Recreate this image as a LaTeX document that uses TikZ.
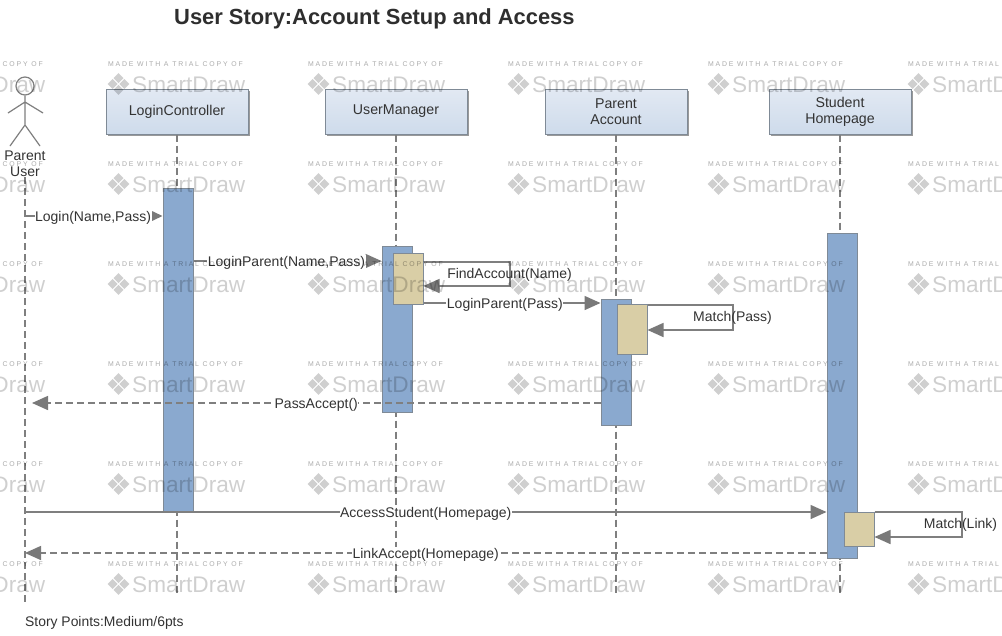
\documentclass[tikz,border=0pt]{standalone}
\usepackage{fontspec}
\setmainfont{Liberation Sans}
\newfontfamily\wmfont[LetterSpace=26]{Liberation Sans}
\usetikzlibrary{arrows.meta,shapes.geometric}
\definecolor{linegrey}{HTML}{7F7F7F}
\definecolor{txt}{HTML}{333333}
\definecolor{boxedge}{HTML}{7F8A96}
\definecolor{boxtop}{HTML}{E2E9F3}
\definecolor{boxbot}{HTML}{CEDBEB}
\definecolor{barblue}{HTML}{8AA9CF}
\definecolor{bartan}{HTML}{D9CEA6}
\definecolor{shadowgrey}{HTML}{999999}
\tikzset{
  x=1pt,y=-1pt,
  lbl/.style={text=txt,font=\fontsize{14}{16}\selectfont,inner sep=0.5pt,yshift=-1.5pt},
  msg/.style={draw=linegrey,line width=1.5pt,-{Triangle[length=16pt,width=14pt,color=linegrey!95!black]}},
  smallmsg/.style={draw=linegrey,line width=1.5pt,-{Triangle[length=12pt,width=11pt,color=linegrey!95!black]}},
  ret/.style={msg,dash pattern=on 7pt off 4pt},
  life/.style={draw=linegrey,line width=1.4pt,dash pattern=on 7pt off 4pt},
  objbox/.style={draw=boxedge,line width=1pt,top color=boxtop,bottom color=boxbot,minimum width=142pt,minimum height=45pt,align=center,text=txt,font=\fontsize{14.2}{16}\selectfont,inner sep=0pt,anchor=north west},
  bar/.style={draw=boxedge,line width=1pt,fill=barblue,minimum width=30pt,inner sep=0pt,anchor=north west},
  inner/.style={draw=boxedge,line width=1pt,fill=bartan,minimum width=30pt,inner sep=0pt,anchor=north west},
  stick/.style={draw=linegrey,line width=1.2pt},
}
\newcommand{\objshadow}[5]{\fill[shadowgrey] (#1+#5,#2+#5) rectangle (#3+#5,#4+#5);}
\begin{document}
\begin{tikzpicture}
\useasboundingbox (0,0) rectangle (1002,635);
\fill[white] (0,0) rectangle (1002,635);
% title
\node[anchor=west,font=\bfseries\fontsize{21.9}{26}\selectfont,text=txt!90!black,inner sep=0] (title) at (174,18.5) {User Story:Account Setup and Access};
\node[anchor=west,font=\fontsize{13.9}{16}\selectfont,text=txt,inner sep=0] (foot) at (25,622.5) {Story Points:Medium/6pts};
% object boxes
\objshadow{105.5}{88.5}{247.5}{133.5}{2}
\objshadow{324.5}{88.5}{466.5}{133.5}{2}
\objshadow{544.5}{88.5}{686.5}{133.5}{2}
\objshadow{768.5}{88.5}{910.5}{133.5}{2}
\node[objbox] (lc) at (105.5,88.5) {LoginController};
\node[objbox] (um) at (324.5,88.5) {UserManager};
\node[objbox] (pa) at (544.5,88.5) {Parent\\Account};
\node[objbox] (sh) at (768.5,88.5) {Student\\Homepage};
% actor
\node[circle,draw=linegrey,line width=1.2pt,minimum size=18pt,inner sep=0] (head) at (25,86) {};
\coordinate (neck) at (25,102);
\coordinate (hip) at (25,125);
\coordinate (handl) at (8,113);
\coordinate (handr) at (43,113);
\coordinate (footl) at (10,146);
\coordinate (footr) at (40,146);
\draw[stick] (head.south) -- (hip) -- (footl) (hip) -- (footr) (neck) -- (handl) (neck) -- (handr);
\node[lbl,align=center,inner sep=0,anchor=north] (actor) at (25,149.5) {Parent\\User};
% lifelines
\coordinate (aend) at (25,606);
\coordinate (lcend) at (177,596);
\coordinate (umend) at (396,596);
\coordinate (paend) at (616,596);
\coordinate (shend) at (840,596);
\draw[life] (actor.south) -- (aend);
\draw[life] (lc.south -| lcend) -- (lcend);
\draw[life] (um.south -| umend) -- (umend);
\draw[life] (pa.south -| paend) -- (paend);
\draw[life] (sh.south -| shend) -- (shend);
% activation bars
\objshadow{162.5}{187.5}{192.5}{511.5}{1.5}
\objshadow{381.5}{245.5}{411.5}{411.5}{1.5}
\objshadow{600.5}{298.5}{630.5}{424.5}{1.5}
\objshadow{826.5}{232.5}{856.5}{557.5}{1.5}
\node[bar,minimum height=324pt] (lcb) at (162.5,187.5) {};
\node[bar,minimum height=166pt] (umb) at (381.5,245.5) {};
\node[bar,minimum height=126pt] (pab) at (600.5,298.5) {};
\node[bar,minimum height=325pt] (shb) at (826.5,232.5) {};
\objshadow{392.5}{252.5}{422.5}{303.5}{1.5}
\objshadow{616.5}{303.5}{646.5}{353.5}{1.5}
\objshadow{843.5}{511.5}{873.5}{545.5}{1.5}
\node[inner,minimum height=51pt] (umi) at (392.5,252.5) {};
\node[inner,minimum height=50pt] (pai) at (616.5,303.5) {};
\node[inner,minimum height=34pt] (shi) at (843.5,511.5) {};
% connector corner points
\coordinate (a1) at (25,216);
\coordinate (a2) at (25,403);
\coordinate (a3) at (25,512);
\coordinate (a4) at (25,553);
\coordinate (f1) at (510,262);
\coordinate (f2) at (510,286);
\coordinate (m1) at (733,305);
\coordinate (m2) at (733,330);
\coordinate (k1) at (962,512);
\coordinate (k2) at (962,537);
\coordinate (pas) at (32,403);
% messages
\draw[smallmsg] (a1) -- (a1 -| lcb.west) node[lbl,fill=white,pos=.495] (t1) {Login(Name,Pass)};
\draw[msg] (lcb.east |- 0,261) -- (umb.west |- 0,261) node[lbl,fill=white,midway,xshift=-1pt] (t2) {LoginParent(Name,Pass)};
\draw[msg] (umi.east |- f1) -- (f1) -- (f2) -- (umi.east |- f2);
\node[lbl] (t3) at (509.5,273) {FindAccount(Name)};
\draw[msg] (umi.east |- 0,303) -- (pab.west |- 0,303) node[lbl,fill=white,pos=.46] (t4) {LoginParent(Pass)};
\draw[msg] (pai.east |- m1) -- (m1) -- (m2) -- (pai.east |- m2);
\node[lbl] (t5) at (732.5,316.5) {Match(Pass)};
\draw[ret] (pab.west |- pas) -- (pas) node[lbl,fill=white,pos=.5] (t6) {PassAccept()};
\draw[msg] (a3) -- (a3 -| shb.west) node[lbl,fill=white,pos=.5] (t7) {AccessStudent(Homepage)};
\draw[msg] (shi.east |- k1) -- (k1) -- (k2) -- (shi.east |- k2);
\node[lbl] (t8) at (960.5,523) {Match(Link)};
\draw[ret] (shb.west |- a4) -- (a4) node[lbl,fill=white,pos=.5] (t9) {LinkAccept(Homepage)};
% watermark
\begin{scope}
\clip (0,0) rectangle (1002,635);
\begin{scope}[opacity=.19,transparency group]
\foreach \wx in {-92,108,308,508,708,908}{
  \foreach \wy in {64,164,264,364,464,564}{
    \node[anchor=west,inner sep=0,font=\fontsize{22.6}{26}\selectfont] (wms\wx-\wy) at (\wx+24,\wy+20.5) {SmartDraw};
    \foreach \dx/\dy in {0/-5.8,-5.8/0,5.8/0,0/5.8}{
      \fill ({\wx+10.5+\dx},{\wy+20+\dy-5}) -- ({\wx+10.5+\dx+5},{\wy+20+\dy}) -- ({\wx+10.5+\dx},{\wy+20+\dy+5}) -- ({\wx+10.5+\dx-5},{\wy+20+\dy}) -- cycle;
    }
  }
}
\end{scope}
\begin{scope}[text opacity=.33]
\foreach \wx in {-92,108,308,508,708,908}{
  \foreach \wy in {64,164,264,364,464,564}{
    \node[anchor=west,inner sep=0,font=\wmfont\fontsize{6.9}{8}\selectfont] (wmt\wx-\wy) at (\wx,\wy) {MADE WITH A TRIAL COPY OF};
  }
}
\end{scope}
\end{scope}
\end{tikzpicture}
\end{document}
